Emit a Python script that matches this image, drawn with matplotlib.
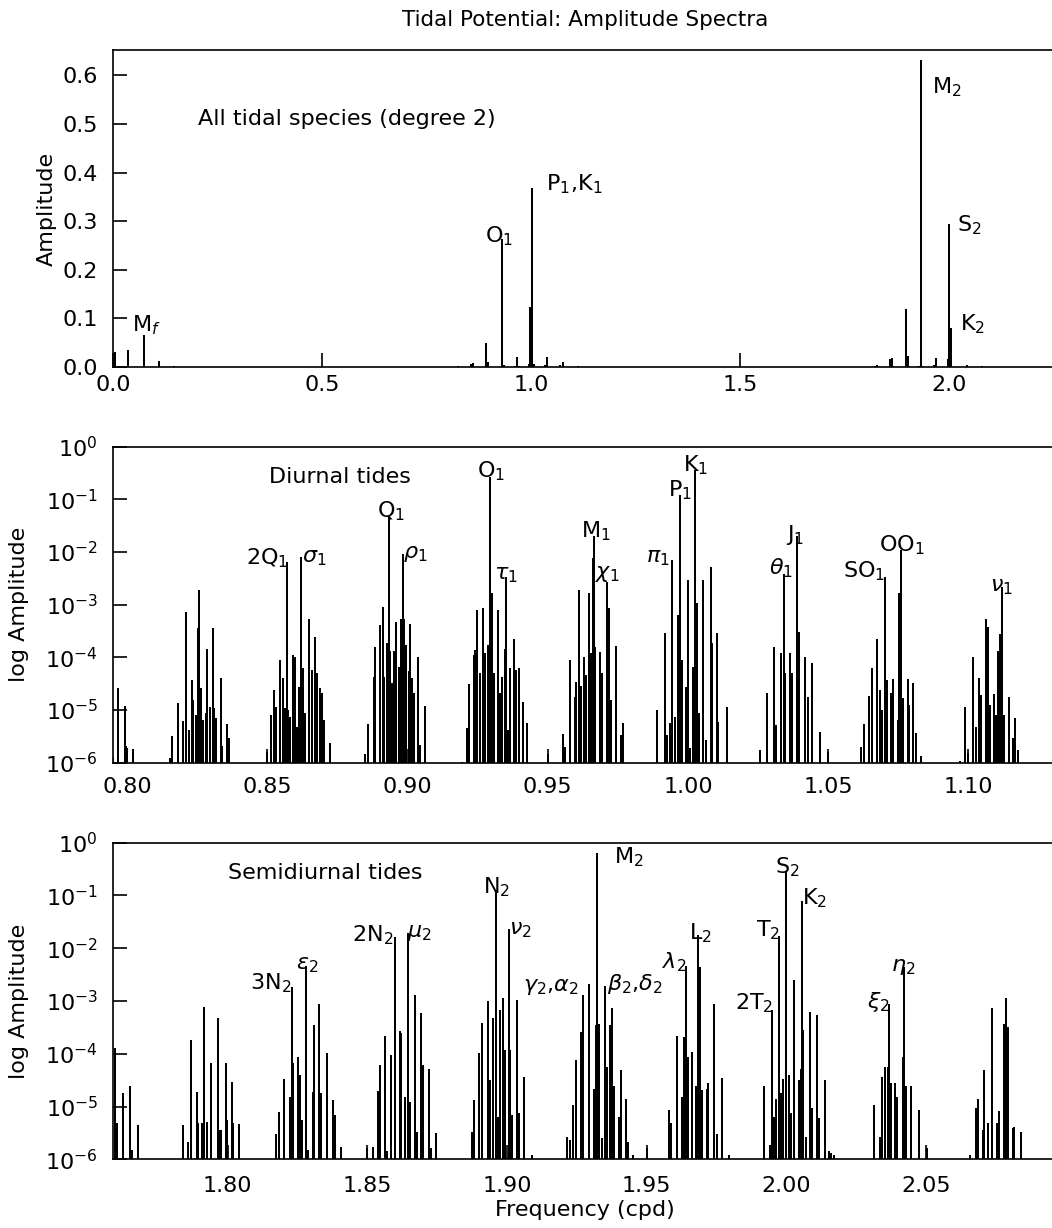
import numpy as np
import matplotlib
matplotlib.use('Agg')
import matplotlib.pyplot as plt
from matplotlib.ticker import FixedLocator, FormatStrFormatter, NullLocator, LogLocator

plt.rcParams['font.family'] = ['DejaVu Sans']
plt.rcParams['mathtext.fontset'] = 'dejavusans'

# ---------------- data ----------------
# long-period lines (top panel only): frequency (cpd), amplitude
long_freq = [0.0027, 0.0055, 0.0339, 0.0363, 0.0732, 0.1095, 0.1458]
long_amp = [0.005, 0.030, 0.003, 0.034, 0.066, 0.013, 0.002]

# diurnal band: frequency (cpd) and log10 amplitude
diurnal_freq = [
    0.7950, 0.7968, 0.7992, 0.7995, 0.8000, 0.8019,
    0.8152, 0.8161, 0.8182, 0.8200, 0.8209, 0.8221, 0.8230, 0.8236, 0.8245, 0.8250,
    0.8253, 0.8257, 0.8263, 0.8271, 0.8281, 0.8283, 0.8295, 0.8305, 0.8309, 0.8317,
    0.8333, 0.8338, 0.8355, 0.8362,
    0.8500, 0.8512, 0.8522, 0.8531, 0.8545, 0.8557, 0.8563, 0.8569, 0.8575, 0.8581,
    0.8591, 0.8597, 0.8605, 0.8611, 0.8619, 0.8626, 0.8635, 0.8649, 0.8658, 0.8668,
    0.8676, 0.8688, 0.8696, 0.8700, 0.8724,
    0.8849, 0.8858, 0.8879, 0.8885, 0.8903, 0.8912, 0.8917, 0.8926, 0.8932, 0.8938,
    0.8944, 0.8950, 0.8960, 0.8969, 0.8976, 0.8982, 0.8988, 0.8995, 0.9004, 0.9010,
    0.9016, 0.9024, 0.9036, 0.9043, 0.9063,
    0.9194, 0.9212, 0.9220, 0.9236, 0.9242, 0.9248, 0.9259, 0.9269, 0.9277, 0.9287,
    0.9295, 0.9301, 0.9307, 0.9323, 0.9328, 0.9337, 0.9346, 0.9352, 0.9358, 0.9367,
    0.9378, 0.9388, 0.9396, 0.9412, 0.9426,
    0.9500, 0.9555, 0.9563, 0.9581, 0.9596, 0.9602, 0.9611, 0.9620, 0.9628, 0.9635,
    0.9646, 0.9653, 0.9660, 0.9665, 0.9670, 0.9688, 0.9694, 0.9712, 0.9718, 0.9724,
    0.9742, 0.9760, 0.9768,
    0.9891, 0.9917, 0.9924, 0.9936, 0.9945, 0.9953, 0.9965, 0.9973, 0.9980, 0.9992,
    1.0000, 1.0007, 1.0019, 1.0027, 1.0033, 1.0039, 1.0055, 1.0063, 1.0081, 1.0085,
    1.0105, 1.0109, 1.0138,
    1.0257, 1.0281, 1.0307, 1.0313, 1.0331, 1.0341, 1.0346, 1.0365, 1.0371, 1.0390,
    1.0397, 1.0417, 1.0427, 1.0444, 1.0471, 1.0498,
    1.0619, 1.0627, 1.0647, 1.0656, 1.0674, 1.0685, 1.0694, 1.0704, 1.0712, 1.0724,
    1.0730, 1.0748, 1.0754, 1.0760, 1.0766, 1.0784, 1.0790, 1.0804, 1.0813, 1.0831,
    1.0970, 1.0989, 1.1000, 1.1016, 1.1027, 1.1037, 1.1045, 1.1063, 1.1072, 1.1079,
    1.1093, 1.1099, 1.1107, 1.1115, 1.1121, 1.1129, 1.1147, 1.1159, 1.1168, 1.1177,
]
diurnal_logamp = [
    -5.90, -4.59, -4.92, -5.68, -5.73, -5.74,
    -5.92, -5.49, -4.86, -5.20, -3.13, -5.38, -4.43, -4.81, -5.09, -5.09,
    -3.45, -2.72, -4.59, -5.19, -5.06, -3.84, -4.94, -3.44, -4.97, -5.16,
    -4.39, -5.68, -5.27, -5.54,
    -5.79, -5.09, -4.62, -4.94, -4.05, -4.40, -4.97, -2.18, -4.99, -5.13,
    -3.96, -3.99, -5.32, -4.56, -2.10, -4.21, -5.06, -3.28, -4.24, -3.62,
    -4.30, -4.59, -4.68, -5.19, -5.62,
    -5.83, -5.27, -4.38, -3.80, -3.39, -3.04, -4.37, -3.72, -1.31, -3.87,
    -4.49, -3.87, -3.32, -4.18, -3.28, -2.03, -3.27, -3.77, -4.26, -3.37,
    -4.40, -4.68, -3.99, -5.66, -4.92,
    -5.98, -5.35, -4.51, -3.96, -3.86, -3.10, -4.30, -3.06, -3.92, -3.77,
    -0.58, -2.77, -4.30, -3.10, -4.68, -4.37, -3.84, -2.47, -5.38, -4.21,
    -3.65, -4.24, -4.21, -4.84, -5.25,
    -5.83, -5.46, -5.70, -4.05, -4.75, -4.46, -2.72, -4.54, -3.99, -4.34,
    -2.78, -3.92, -2.12, -1.70, -3.80, -3.89, -4.30, -2.56, -3.07, -4.81,
    -3.78, -5.47, -5.25,
    -5.00, -3.54, -5.47, -5.25, -2.15, -5.13, -3.20, -0.91, -4.05, -4.56,
    -2.53, -5.73, -4.18, -0.434, -2.97, -5.06, -2.53, -5.57, -2.28, -3.73,
    -3.54, -5.22, -4.94,
    -5.75, -4.67, -3.80, -5.28, -3.92, -2.41, -4.30, -3.91, -4.30, -1.69,
    -3.51, -4.00, -4.75, -4.10, -5.41, -5.79,
    -5.70, -5.27, -4.73, -4.20, -3.66, -4.62, -5.00, -2.47, -4.43, -4.68,
    -4.42, -5.19, -2.78, -1.96, -4.78, -4.42, -4.91, -4.48, -5.44, -5.87,
    -5.96, -4.94, -5.81, -3.99, -5.32, -4.40, -4.72, -3.28, -3.42, -4.91,
    -4.70, -5.09, -3.87, -3.56, -2.66, -5.09, -4.76, -5.54, -5.16, -5.76,
]

# semidiurnal band: frequency (cpd) and log10 amplitude
semi_freq = [
    1.7596, 1.7602, 1.7626, 1.7650, 1.7656, 1.7677,
    1.7839, 1.7857, 1.7869, 1.7889, 1.7895, 1.7907, 1.7916, 1.7925, 1.7940, 1.7964,
    1.7970, 1.7976, 1.7993, 1.7996, 1.8014, 1.8020, 1.8041,
    1.8172, 1.8184, 1.8203, 1.8223, 1.8229, 1.8233, 1.8251, 1.8257, 1.8265, 1.8280,
    1.8286, 1.8305, 1.8309, 1.8327, 1.8333, 1.8355, 1.8376, 1.8385, 1.8406,
    1.8498, 1.8520, 1.8538, 1.8544, 1.8564, 1.8570, 1.8585, 1.8597, 1.8600, 1.8615,
    1.8621, 1.8636, 1.8645, 1.8648, 1.8652, 1.8669, 1.8677, 1.8692, 1.8699, 1.8722,
    1.8729, 1.8745,
    1.8875, 1.8883, 1.8901, 1.8911, 1.8931, 1.8940, 1.8950, 1.8960, 1.8968, 1.8976,
    1.8986, 1.8994, 1.9008, 1.9012, 1.9018, 1.9034, 1.9042, 1.9062, 1.9089,
    1.9215, 1.9225, 1.9237, 1.9245, 1.9263, 1.9272, 1.9293, 1.9311, 1.9317, 1.9323,
    1.9329, 1.9341, 1.9349, 1.9358, 1.9370, 1.9376, 1.9382, 1.9400, 1.9406, 1.9427,
    1.9433, 1.9452, 1.9500,
    1.9580, 1.9588, 1.9609, 1.9627, 1.9633, 1.9639, 1.9648, 1.9661, 1.9675, 1.9682,
    1.9691, 1.9699, 1.9715, 1.9721, 1.9741, 1.9750, 1.9771, 1.9795,
    1.9918, 1.9942, 1.9947, 1.9954, 1.9964, 1.9973, 1.9980, 1.9986, 2.0000, 2.0010,
    2.0018, 2.0027, 2.0046, 2.0052, 2.0055, 2.0061, 2.0069, 2.0084, 2.0093, 2.0111,
    2.0117, 2.0139, 2.0153, 2.0161, 2.0171,
    2.0314, 2.0335, 2.0342, 2.0353, 2.0362, 2.0368, 2.0374, 2.0390, 2.0396, 2.0416,
    2.0420, 2.0428, 2.0446, 2.0476, 2.0503,
    2.0657, 2.0679, 2.0685, 2.0703, 2.0709, 2.0723, 2.0735, 2.0754, 2.0760, 2.0780,
    2.0786, 2.0792, 2.0810, 2.0816, 2.0840,
]
semi_logamp = [
    -3.90, -5.32, -4.75, -4.61, -5.82, -5.35,
    -5.35, -5.67, -3.73, -4.73, -5.31, -5.31, -3.11, -5.29, -4.18, -3.33,
    -5.44, -5.44, -4.18, -5.26, -4.53, -5.32, -5.33,
    -5.52, -5.10, -4.47, -4.81, -2.73, -4.18, -4.06, -4.40, -5.26, -2.33,
    -5.82, -4.72, -3.46, -3.05, -4.75, -3.98, -4.88, -5.16, -5.76,
    -5.79, -5.76, -4.71, -4.21, -3.67, -5.85, -4.03, -1.79, -5.63, -3.57,
    -3.60, -4.81, -1.71, -5.16, -4.91, -2.89, -5.48, -3.22, -4.21, -4.28,
    -5.79, -5.51,
    -5.48, -4.88, -3.99, -3.41, -3.00, -4.50, -3.33, -0.92, -5.19, -3.17,
    -2.95, -3.93, -1.64, -3.93, -5.16, -2.98, -5.13, -4.44, -5.92,
    -5.57, -5.63, -4.97, -4.12, -3.58, -2.89, -2.67, -4.66, -3.46, -0.20,
    -3.43, -5.60, -2.72, -4.25, -3.46, -3.14, -4.62, -5.19, -4.31, -4.85,
    -5.67, -5.92, -5.79,
    -5.07, -5.32, -3.66, -4.81, -3.69, -2.34, -4.06, -3.97, -4.62, -1.75,
    -2.35, -4.69, -4.66, -4.56, -3.06, -5.52, -4.45, -5.92,
    -4.62, -5.73, -3.17, -5.19, -4.85, -1.76, -4.75, -4.47, -0.53, -4.40,
    -5.13, -2.61, -4.50, -4.28, -1.10, -3.55, -5.57, -3.21, -5.03, -3.27,
    -5.22, -4.50, -5.85, -5.89, -5.92,
    -4.97, -5.57, -4.44, -4.26, -4.26, -3.05, -4.56, -4.56, -4.81, -4.06,
    -2.35, -4.62, -4.62, -5.07, -5.79,
    -5.92, -5.03, -4.85, -5.44, -4.30, -5.32, -3.14, -5.32, -5.08, -3.43,
    -2.95, -3.49, -5.41, -5.38, -5.48,
]

# labels: (text, frequency, amplitude or log10 amplitude)
top_labels = [
    ("M$_2$", 1.958, 0.575), ("P$_1$,K$_1$", 1.036, 0.376), ("O$_1$", 0.891, 0.268),
    ("S$_2$", 2.020, 0.291), ("K$_2$", 2.026, 0.088), ("M$_f$", 0.046, 0.086),
]
diurnal_labels = [
    ("2Q$_1$", 0.8424, -2.12), (r"$\sigma_1$", 0.8623, -2.12), ("Q$_1$", 0.8891, -1.23),
    (r"$\rho_1$", 0.8983, -2.03), ("O$_1$", 0.9248, -0.47), (r"$\tau_1$", 0.9307, -2.44),
    ("M$_1$", 0.9617, -1.61), (r"$\chi_1$", 0.9670, -2.41), (r"$\pi_1$", 0.9849, -2.12),
    ("P$_1$", 0.9929, -0.82), ("K$_1$", 0.9983, -0.35), (r"$\theta_1$", 1.0290, -2.31),
    ("J$_1$", 1.0349, -1.68), ("SO$_1$", 1.0554, -2.37), ("OO$_1$", 1.0680, -1.87),
    (r"$\nu_1$", 1.1079, -2.66),
]
semi_labels = [
    ("3N$_2$", 1.8080, -2.67), (r"$\epsilon_2$", 1.8244, -2.32), ("2N$_2$", 1.8444, -1.75),
    (r"$\mu_2$", 1.8642, -1.72), ("N$_2$", 1.8913, -0.84), (r"$\nu_2$", 1.9006, -1.66),
    (r"$\gamma_2$,$\alpha_2$", 1.9057, -2.73), ("M$_2$", 1.9382, -0.27),
    (r"$\beta_2$,$\delta_2$", 1.9356, -2.67), (r"$\lambda_2$", 1.9556, -2.26),
    ("L$_2$", 1.9651, -1.72), ("T$_2$", 1.9890, -1.66), ("2T$_2$", 1.9815, -3.05),
    ("S$_2$", 1.9958, -0.46), ("K$_2$", 2.0057, -1.06), (r"$\xi_2$", 2.0290, -3.02),
    (r"$\eta_2$", 2.0374, -2.35),
]

# ---------------- figure ----------------
W, H = 1052, 1228
fig = plt.figure(figsize=(W / 100, H / 100), dpi=100)


def rect(top_px, bot_px, left_px=113, right_px=1054):
    return [left_px / W, 1 - bot_px / H, (right_px - left_px) / W, (bot_px - top_px) / H]


ax1 = fig.add_axes(rect(50, 367))
ax2 = fig.add_axes(rect(446.7, 762.7))
ax3 = fig.add_axes(rect(842.7, 1159.3))

FS = 16
LW = 1.1


def style(ax, pad_x):
    for s in ax.spines.values():
        s.set_linewidth(1.2)
    ax.tick_params(direction='in', length=10, width=1.2, labelsize=FS,
                   top=False, right=False)
    ax.tick_params(axis='x', pad=pad_x)
    ax.tick_params(axis='y', pad=11)
    ax.tick_params(which='minor', length=0)


def stems(ax, freq, bottom, amp):
    ax.vlines(freq, bottom, amp, color='black', linewidth=LW, antialiased=False)


# top panel (linear)
all_freq = list(long_freq) + list(diurnal_freq) + list(semi_freq)
all_amp = list(long_amp) + [10 ** v for v in diurnal_logamp] + [10 ** v for v in semi_logamp]
stems(ax1, all_freq, 0, all_amp)
ax1.set_xlim(0, 2.251)
ax1.set_ylim(0, 0.652)
ax1.xaxis.set_major_locator(FixedLocator([0.0, 0.5, 1.0, 1.5, 2.0]))
ax1.yaxis.set_major_locator(FixedLocator([0.0, 0.1, 0.2, 0.3, 0.4, 0.5, 0.6]))
ax1.xaxis.set_major_formatter(FormatStrFormatter('%.1f'))
ax1.yaxis.set_major_formatter(FormatStrFormatter('%.1f'))
style(ax1, 6)
ax1.set_ylabel('Amplitude', fontsize=FS)
ax1.yaxis.set_label_coords(-0.060, 0.5)
ax1.text(0.203, 0.51, 'All tidal species (degree 2)', fontsize=FS, ha='left', va='center')
for t, f, a in top_labels:
    ax1.text(f, a, t, fontsize=FS, ha='left', va='center')

# diurnal panel (log)
stems(ax2, diurnal_freq, 1e-6, [10 ** v for v in diurnal_logamp])
ax2.set_yscale('log')
ax2.set_xlim(0.7949, 1.1306)
ax2.set_ylim(1e-6, 1)
ax2.yaxis.set_major_locator(LogLocator(base=10, numticks=10))
ax2.yaxis.set_minor_locator(NullLocator())
ax2.xaxis.set_major_locator(FixedLocator([0.80, 0.85, 0.90, 0.95, 1.00, 1.05, 1.10]))
ax2.xaxis.set_major_formatter(FormatStrFormatter('%.2f'))
style(ax2, 10)
ax2.set_ylabel('log Amplitude', fontsize=FS)
ax2.yaxis.set_label_coords(-0.089, 0.5)
ax2.text(0.8507, 10 ** -0.57, 'Diurnal tides', fontsize=FS, ha='left', va='center')
for t, f, l in diurnal_labels:
    ax2.text(f, 10 ** l, t, fontsize=FS, ha='left', va='center')

# semidiurnal panel (log)
stems(ax3, semi_freq, 1e-6, [10 ** v for v in semi_logamp])
ax3.set_yscale('log')
ax3.set_xlim(1.7589, 2.0958)
ax3.set_ylim(1e-6, 1)
ax3.yaxis.set_major_locator(LogLocator(base=10, numticks=10))
ax3.yaxis.set_minor_locator(NullLocator())
ax3.xaxis.set_major_locator(FixedLocator([1.80, 1.85, 1.90, 1.95, 2.00, 2.05]))
ax3.xaxis.set_major_formatter(FormatStrFormatter('%.2f'))
style(ax3, 12)
ax3.set_ylabel('log Amplitude', fontsize=FS)
ax3.yaxis.set_label_coords(-0.089, 0.5)
ax3.text(1.7999, 10 ** -0.57, 'Semidiurnal tides', fontsize=FS, ha='left', va='center')
for t, f, l in semi_labels:
    ax3.text(f, 10 ** l, t, fontsize=FS, ha='left', va='center')

fig.text(585 / W, 1 - 20 / H, 'Tidal Potential: Amplitude Spectra', fontsize=15.5,
         ha='center', va='center')
fig.text(585 / W, 1 - 1210 / H, 'Frequency (cpd)', fontsize=FS, ha='center', va='center')

fig.savefig('out.png', dpi=100)
